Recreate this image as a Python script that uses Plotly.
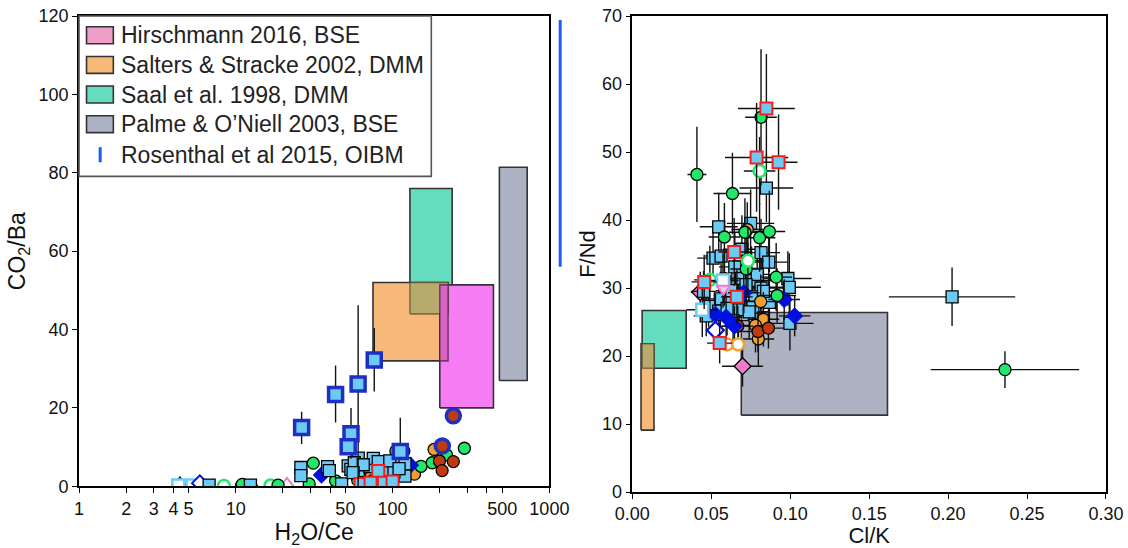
import plotly.graph_objects as go

FONT = "Liberation Sans, Arial, sans-serif"

# ---------------- reference boxes ----------------
box_labels = ["Hirschmann 2016, BSE", "Salters & Stracke 2002, DMM",
              "Saal et al. 1998, DMM", "Palme & O\u2019Niell 2003, BSE"]
legend_colors = ["#f09cc8", "#f6b97a", "#66dcbe", "#adb3c2"]
# left panel (H2O/Ce vs CO2/Ba)
L_box_x0 = [200, 75, 129, 480]
L_box_x1 = [440, 226, 240, 722]
L_box_y0 = [20.0, 32.0, 44.0, 27.0]
L_box_y1 = [51.4, 52.0, 76.0, 81.4]
L_box_col = ["#f57cf2", "#f6b97a", "#66dcbe", "#adb3c2"]
# right panel (Cl/K vs F/Nd): Salters, Saal, Palme
R_box_x0 = [0.0055, 0.0062, 0.069]
R_box_x1 = [0.0137, 0.0341, 0.1616]
R_box_y0 = [9.1, 18.2, 11.3]
R_box_y1 = [21.8, 26.7, 26.4]
R_box_col = ["#f6b97a", "#66dcbe", "#adb3c2"]
rosenthal_y = [56.0, 119.0]

# ---------------- left panel points ----------------
L_sq_x = [6.76, 12.4, 26, 26, 38.5, 39.5, 47.3, 52.1, 54.2, 60.4, 60.4, 71.7, 75.3, 88.5,
          90.3, 106, 120, 120, 102, 81, 57, 65, 96, 110, 56]
L_sq_y = [0.3, 0.3, 4.8, 2.7, 5.0, 4.0, 0.6, 5.2, 4.3, 7.2, 4.0, 5.0, 7.1, 5.9,
          4.2, 5.9, 5.7, 2.6, 3.7, 6.3, 6.0, 5.5, 6.5, 4.5, 3.5]
L_bsq_x = [26.3, 43.3, 60.3, 76.4, 54.3, 52.1, 112]
L_bsq_y = [15.0, 23.4, 26.1, 32.2, 13.4, 10.1, 8.9]
L_bsq_up = [4.0, 7.4, 20.1, 8.2, 6.6, 0, 8.6]
L_bsq_dn = [4.2, 7.1, 26.1, 8.0, 6.4, 0, 0]
L_rsq_x = [81, 62.5, 72.4, 88, 100]
L_rsq_y = [3.9, 0.6, 0.9, 0.9, 1.2]
L_grn_x = [287, 152, 179, 221, 31.2, 29.4, 43.3, 59.4, 11.0, 18.6, 105, 60]
L_grn_y = [9.7, 5.1, 6.0, 8.0, 5.9, 0.6, 1.4, 2.5, 0.5, 0.3, 9.0, 1.5]
L_org_x = [184, 138, 73, 118, 10.9, 75]
L_org_y = [9.4, 3.1, 2.5, 9.0, 0.2, 1.5]
L_red_x = [199, 244, 207]
L_red_y = [6.45, 6.3, 4.0]
L_bred_x = [244, 207.6]
L_bred_y = [18.0, 10.3]
L_dia_x = [35.2, 130]
L_dia_y = [2.9, 5.4]
L_odia_x = [5.9]
L_odia_y = [0.8]
L_ogrn_x = [8.4, 16.7]
L_ogrn_y = [0.1, 0.2]
L_wsq_x = [4.3, 5.3]
L_wsq_y = [0.2, 0.2]
L_tri_x = [4.4, 12.8]
L_tri_y = [0.9, 0.3]
L_ptri_x = [21.2]
L_ptri_y = [0.6]

# ---------------- right panel points ----------------
R_sq_x = [0.0849, 0.0547, 0.0749, 0.0511, 0.0562, 0.0694, 0.0815, 0.0864, 0.0649, 0.0691,
          0.0755, 0.0791, 0.0815, 0.0985, 0.0994, 0.0451, 0.0557, 0.0619, 0.0674, 0.0777,
          0.0764, 0.0868, 0.0483, 0.0547, 0.0672, 0.0638, 0.0998, 0.0468, 0.2025,
          0.072, 0.063, 0.060, 0.074, 0.083]
R_sq_y = [44.7, 39.0, 39.5, 34.4, 34.7, 35.7, 35.2, 33.8, 33.1, 31.4,
          31.1, 32.0, 30.0, 31.4, 30.1, 29.5, 28.4, 28.0, 28.2, 28.7,
          27.2, 27.9, 27.3, 26.6, 26.8, 25.2, 24.8, 25.9, 28.7,
          30.5, 29.6, 27.0, 26.5, 29.5]
R_sq_ex = [0.017, 0.012, 0.015, 0.010, 0.010, 0.012, 0.012, 0.012, 0.010, 0.012,
           0.015, 0.012, 0.015, 0.015, 0.020, 0.008, 0.010, 0.010, 0.010, 0.012,
           0.012, 0.012, 0.008, 0.010, 0.010, 0.010, 0.015, 0.008, 0.040,
           0.012, 0.010, 0.010, 0.012, 0.012]
R_sq_ey = [5, 5, 5, 4, 5, 5, 5, 5, 5, 5,
           5, 4, 5, 4, 5, 3, 4, 4, 4, 4,
           4, 4, 3, 4, 4, 4, 4, 3, 4.3,
           4, 4, 4, 4, 4]
R_rsq_x = [0.0849, 0.0787, 0.0926, 0.0645, 0.0662, 0.0455, 0.0553]
R_rsq_y = [56.4, 49.2, 48.5, 35.3, 28.7, 30.9, 21.9]
R_rsq_ex = [0.018, 0.020, 0.012, 0.010, 0.010, 0.008, 0.008]
R_rsq_ey = [8, 8, 7, 5, 4, 4, 3]
R_grn_x = [0.0815, 0.0409, 0.0634, 0.0583, 0.0713, 0.0806, 0.0868, 0.0721, 0.0911, 0.0917,
           0.0583, 0.236]
R_grn_y = [55.1, 46.7, 43.9, 37.5, 38.2, 37.4, 38.3, 32.8, 31.6, 28.9, 31.4, 18.0]
R_grn_ex = [0.010, 0.006, 0.012, 0.010, 0.010, 0.010, 0.010, 0.010, 0.010, 0.012, 0.010, 0.047]
R_grn_ey = [10, 7, 6, 5, 5, 5, 6, 5, 5, 4, 4, 2.7]
R_ogrn_x = [0.0806, 0.0732, 0.0491]
R_ogrn_y = [47.2, 34.0, 31.2]
R_wsq_x = [0.0574, 0.0443]
R_wsq_y = [31.1, 26.8]
R_ptri_x = [0.0577]
R_ptri_y = [29.9]
R_dia_x = [0.0962, 0.1028, 0.0526, 0.0594, 0.0706, 0.0647]
R_dia_y = [28.3, 25.9, 26.1, 25.7, 29.3, 24.4]
R_odia_x = [0.0526]
R_odia_y = [23.8]
R_org_x = [0.0728, 0.083, 0.0798, 0.0813, 0.078]
R_org_y = [38.6, 25.4, 22.5, 28.0, 24.5]
R_red_x = [0.0668, 0.0796, 0.0862]
R_red_y = [24.4, 23.6, 24.1]
R_oorg_x = [0.060, 0.067]
R_oorg_y = [21.7, 21.7]
R_pdia_x = [0.0698, 0.043]
R_pdia_y = [18.5, 29.4]
R_pdia_ex = [0.013, 0.006]
R_pdia_ey = [3, 3]

# tick labels
L_xtickvals = [1, 2, 3, 4, 5, 10, 20, 30, 40, 50, 100, 200, 300, 400, 500, 1000]
L_xticktext = ["1", "2", "3", "4", "5", "10", "", "", "", "50", "100", "", "", "", "500", "1000"]

LB = "#6ccaf7"
BLUE_EDGE = "#1f2fc4"
GREEN = "#22e86a"
ORANGE = "#f0a030"
DRED = "#c03a10"
BLUE = "#0010e0"
PINK = "#f07cc8"

fig = go.Figure()


def rect(x0, x1, y0, y1, fill, xa, ya, line="#333333"):
    fig.add_trace(go.Scatter(x=[x0, x1, x1, x0, x0], y=[y0, y0, y1, y1, y0], mode="lines",
                             fill="toself", fillcolor=fill, line=dict(color=line, width=1.6),
                             xaxis=xa, yaxis=ya, hoverinfo="skip", showlegend=False))


def overlap(a, b, xs0, xs1, ys0, ys1):
    x0 = max(xs0[a], xs0[b]); x1 = min(xs1[a], xs1[b])
    y0 = max(ys0[a], ys0[b]); y1 = min(ys1[a], ys1[b])
    return x0, x1, y0, y1


# left boxes: draw teal, orange, magenta, grey
for i in [2, 1, 0, 3]:
    rect(L_box_x0[i], L_box_x1[i], L_box_y0[i], L_box_y1[i], L_box_col[i], "x", "y")
x0, x1, y0, y1 = overlap(1, 2, L_box_x0, L_box_x1, L_box_y0, L_box_y1)
rect(x0, x1, y0, y1, "#b6aa6c", "x", "y", line="rgba(90,80,40,0.7)")
x0, x1, y0, y1 = overlap(0, 1, L_box_x0, L_box_x1, L_box_y0, L_box_y1)
rect(x0, x1, y0, y1, "#d864c6", "x", "y", line="rgba(80,30,70,0.7)")

# right boxes
for i in [1, 0, 2]:
    rect(R_box_x0[i], R_box_x1[i], R_box_y0[i], R_box_y1[i], R_box_col[i], "x2", "y2")
x0, x1, y0, y1 = overlap(0, 1, R_box_x0, R_box_x1, R_box_y0, R_box_y1)
rect(x0, x1, y0, y1, "#b6aa6c", "x2", "y2", line="rgba(90,80,40,0.7)")


def pts(x, y, xa, ya, symbol, color, edge="black", ew=1.3, size=12, ex=None, ey=None,
        eyp=None, eym=None):
    kw = {}
    if ex is not None:
        kw["error_x"] = dict(type="data", array=ex, color="#111111", thickness=1.4, width=0)
    if ey is not None:
        kw["error_y"] = dict(type="data", array=ey, color="#111111", thickness=1.4, width=0)
    if eyp is not None:
        kw["error_y"] = dict(type="data", array=eyp, arrayminus=eym, color="#111111",
                             thickness=1.4, width=0)
    fig.add_trace(go.Scatter(x=x, y=y, mode="markers", xaxis=xa, yaxis=ya,
                             marker=dict(symbol=symbol, color=color, size=size,
                                         line=dict(color=edge, width=ew)),
                             showlegend=False, **kw))


# left panel
pts(L_tri_x, L_tri_y, "x", "y", "triangle-up-open", "black", edge="black", ew=1.5, size=11)
pts(L_ptri_x, L_ptri_y, "x", "y", "triangle-up-open", PINK, edge=PINK, ew=2, size=12)
pts(L_wsq_x, L_wsq_y, "x", "y", "square", "white", edge=LB, ew=2.5)
pts(L_ogrn_x, L_ogrn_y, "x", "y", "circle", "white", edge=GREEN, ew=2.5)
pts(L_odia_x, L_odia_y, "x", "y", "diamond", "white", edge=BLUE, ew=2)
pts(L_org_x, L_org_y, "x", "y", "circle", ORANGE)
pts(L_grn_x, L_grn_y, "x", "y", "circle", GREEN)
pts(L_red_x, L_red_y, "x", "y", "circle", DRED)
pts(L_dia_x, L_dia_y, "x", "y", "diamond", BLUE, edge=BLUE)
pts(L_sq_x, L_sq_y, "x", "y", "square", LB)
pts(L_rsq_x, L_rsq_y, "x", "y", "square", LB, edge="#ff1a1a", ew=2)
pts(L_bred_x, L_bred_y, "x", "y", "circle", DRED, edge=BLUE_EDGE, ew=3.5, size=14)
pts(L_bsq_x, L_bsq_y, "x", "y", "square", LB, edge=BLUE_EDGE, ew=3.5, size=14,
    eyp=L_bsq_up, eym=L_bsq_dn)

# right panel
pts(R_pdia_x, R_pdia_y, "x2", "y2", "diamond", PINK, ex=R_pdia_ex, ey=R_pdia_ey, size=13)
pts(R_sq_x, R_sq_y, "x2", "y2", "square", LB, ex=R_sq_ex, ey=R_sq_ey)
pts(R_org_x, R_org_y, "x2", "y2", "circle", ORANGE, ex=[0.01] * len(R_org_x), ey=[4] * len(R_org_x))
pts(R_red_x, R_red_y, "x2", "y2", "circle", DRED, ex=[0.01] * len(R_red_x), ey=[3] * len(R_red_x))
pts(R_dia_x, R_dia_y, "x2", "y2", "diamond", BLUE, edge=BLUE, ex=[0.01] * len(R_dia_x),
    ey=[3] * len(R_dia_x))
pts(R_odia_x, R_odia_y, "x2", "y2", "diamond", "white", edge=BLUE, ew=2.2, size=13)
pts(R_oorg_x, R_oorg_y, "x2", "y2", "circle", "white", edge=ORANGE, ew=2.5)
pts(R_grn_x, R_grn_y, "x2", "y2", "circle", GREEN, ex=R_grn_ex, ey=R_grn_ey)
pts(R_ogrn_x, R_ogrn_y, "x2", "y2", "circle", "white", edge=GREEN, ew=2.5,
    ex=[0.01] * 3, ey=[5] * 3)
pts(R_wsq_x, R_wsq_y, "x2", "y2", "square", "white", edge=LB, ew=2.5, ex=[0.01] * 2, ey=[4] * 2)
pts(R_ptri_x, R_ptri_y, "x2", "y2", "triangle-down", "#f8c8e8", edge=PINK, ew=2)
pts(R_rsq_x, R_rsq_y, "x2", "y2", "square", LB, edge="#ff1a1a", ew=2, ex=R_rsq_ex, ey=R_rsq_ey)

# ---------------- manual legend (left panel) ----------------
shapes = []
annotations = []
leg_x1 = 0.749
leg_y0 = 0.659
shapes.append(dict(type="rect", xref="x domain", yref="y domain", x0=0, x1=leg_x1, y0=leg_y0, y1=1,
                   fillcolor="white", line=dict(color="#555555", width=1.6), layer="above"))
row_y = [0.959, 0.896, 0.833, 0.770, 0.705]
for i, lab in enumerate(box_labels):
    shapes.append(dict(type="rect", xref="x domain", yref="y domain", x0=0.016, x1=0.073,
                       y0=row_y[i] - 0.018, y1=row_y[i] + 0.018, fillcolor=legend_colors[i],
                       line=dict(color="#333333", width=1.6), layer="above"))
leg_texts = box_labels + ["Rosenthal et al 2015, OIBM"]
for i, lab in enumerate(leg_texts):
    annotations.append(dict(xref="x domain", yref="y domain", x=0.086, y=row_y[i], text=lab,
                            showarrow=False, xanchor="left", yanchor="middle",
                            font=dict(family=FONT, size=23, color="#222222")))
shapes.append(dict(type="line", xref="x domain", yref="y domain", x0=0.045, x1=0.045,
                   y0=row_y[4] - 0.016, y1=row_y[4] + 0.016, line=dict(color="#1a5cff", width=3),
                   layer="above"))
# Rosenthal OIBM range (off-scale on H2O/Ce)
shapes.append(dict(type="line", xref="x domain", yref="y", x0=1.023, x1=1.023,
                   y0=rosenthal_y[0], y1=rosenthal_y[1], line=dict(color="#1a5cff", width=3)))

axis_common = dict(showline=True, linecolor="black", linewidth=1.6, mirror=True, ticks="outside",
                   ticklen=5, tickwidth=1.4, tickcolor="black", showgrid=False, zeroline=False,
                   tickangle=0, automargin=False,
                   tickfont=dict(family=FONT, size=18, color="#111111"))

fig.update_layout(
    width=1128, height=548, margin=dict(l=79, r=22, t=16, b=56),
    paper_bgcolor="white", plot_bgcolor="white",
    font=dict(family=FONT, color="#111111"),
    shapes=shapes, annotations=annotations, showlegend=False,
    xaxis=dict(domain=[0, 0.458], type="log", range=[0, 3], tickvals=L_xtickvals,
               ticktext=L_xticktext, anchor="y",
               title=dict(text="H<sub>2</sub>O/Ce", font=dict(family=FONT, size=23), standoff=8),
               **axis_common),
    yaxis=dict(domain=[0.012, 1], range=[0, 120], tickvals=[0, 20, 40, 60, 80, 100, 120],
               anchor="x",
               title=dict(text="CO<sub>2</sub>/Ba", font=dict(family=FONT, size=23), standoff=6),
               **axis_common),
    xaxis2=dict(domain=[0.5388, 1], range=[0, 0.3], tickvals=[0, 0.05, 0.1, 0.15, 0.2, 0.25, 0.3],
                ticktext=["0.00", "0.05", "0.10", "0.15", "0.20", "0.25", "0.30"], anchor="y2",
                title=dict(text="Cl/K", font=dict(family=FONT, size=22), standoff=14),
                **axis_common),
    yaxis2=dict(domain=[0, 1], range=[0, 70], tickvals=[0, 10, 20, 30, 40, 50, 60, 70], anchor="x2",
                title=dict(text="F/Nd", font=dict(family=FONT, size=22), standoff=0),
                **axis_common),
)

fig.write_html("out.html")
